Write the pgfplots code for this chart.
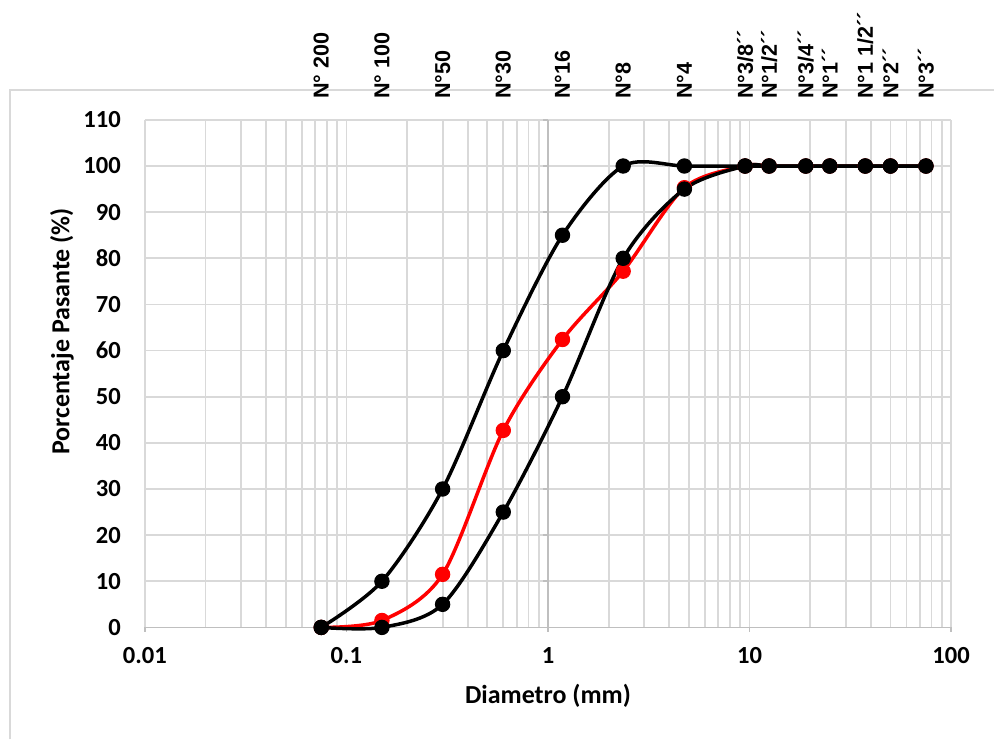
\documentclass[border=0pt]{standalone}
\usepackage{fontspec}
\setmainfont{Carlito}
\newfontfamily\arialfont{Liberation Sans}
\usepackage{pgfplots}
\pgfplotsset{compat=1.18}
\definecolor{gridc}{HTML}{D9D9D9}
\definecolor{axisc}{HTML}{BFBFBF}

\begin{document}
\begin{tikzpicture}
\begin{axis}[
  name=main,
  scale only axis,
  width=403.5pt, height=254pt,
  xmode=log,
  xmin=0.01, xmax=100,
  ymin=0, ymax=110,
  clip=false,
  xtick={0.01,0.1,1,10,100},
  xticklabels={0.01,0.1,1,10,100},
  minor xtick={0.02,0.03,0.04,0.05,0.06,0.07,0.08,0.09,
               0.2,0.3,0.4,0.5,0.6,0.7,0.8,0.9,
               2,3,4,5,6,7,8,9,
               20,30,40,50,60,70,80,90},
  ytick={0,10,...,110},
  /pgf/number format/assume math mode=true,
  grid=both,
  major grid style={gridc, line width=0.9pt},
  minor grid style={gridc, line width=0.9pt},
  axis line style={draw=none},
  major tick length=0pt, minor tick length=0pt,
  tick label style={font=\fontsize{12.3}{14}\selectfont\bfseries},
  yticklabel style={xshift=-8.5pt},
  xticklabel style={yshift=-6.5pt},
  xlabel={Diametro (mm)},
  ylabel={Porcentaje Pasante (\%)},
  label style={font=\fontsize{13}{15}\selectfont\bfseries},
  xlabel style={at={(axis description cs:0.5,-0.1358)}, anchor=center},
  ylabel style={at={(axis description cs:-0.1029,0.583)}, anchor=center, rotate=0},
]
  % invisible frame that sets the size of the picture
  \path (rel axis cs:-0.1797,-0.2205) rectangle (rel axis cs:1.0533,1.2362);
  % chart border
  \draw[gridc, line width=0.9pt] (rel axis cs:-0.1673,-0.2205) -- (rel axis cs:-0.1673,1.059) -- (rel axis cs:1.0533,1.059);
  % bottom axis and vertical axis crossing at 1
  \draw[axisc, line width=0.9pt] (axis cs:0.01,0) -- (axis cs:100,0);
  \draw[axisc, line width=0.9pt] (axis cs:1,0) -- (axis cs:1,110);
  \pgfplotsinvokeforeach{0.01,0.1,1,10,100}{
    \draw[axisc, line width=0.9pt] (axis cs:#1,0) -- ([yshift=-2.5pt]axis cs:#1,0);
  }
  \pgfplotsinvokeforeach{0,10,20,30,40,50,60,70,80,90,100,110}{
    \draw[axisc, line width=0.9pt] (axis cs:1,#1) -- ([xshift=-2.5pt]axis cs:1,#1);
  }

  % red curve
  \addplot[red, line width=1.75pt, smooth, mark=*, mark size=3.6pt,
           mark options={fill=red, draw=red, line width=0.5pt}] coordinates {
    (0.075,0) (0.15,1.5) (0.3,11.5) (0.6,42.7) (1.18,62.4) (2.36,77.2)
    (4.75,95.3) (9.5,100) (12.5,100) (19,100) (25,100) (37.5,100) (50,100) (75,100)
  };
  % lower limit
  \addplot[black, line width=1.75pt, smooth, mark=*, mark size=3.6pt,
           mark options={line width=0.5pt}] coordinates {
    (0.075,0) (0.15,0) (0.3,5) (0.6,25) (1.18,50) (2.36,80)
    (4.75,95) (9.5,100) (12.5,100) (19,100) (25,100) (37.5,100) (50,100) (75,100)
  };
  % upper limit
  \addplot[black, line width=1.75pt, smooth, mark=*, mark size=3.6pt,
           mark options={line width=0.5pt}] coordinates {
    (0.075,0) (0.15,10) (0.3,30) (0.6,60) (1.18,85) (2.36,100)
    (4.75,100) (9.5,100) (12.5,100) (19,100) (25,100) (37.5,100) (50,100) (75,100)
  };
\end{axis}

% sieve names along the top
\begin{axis}[
  at={(main.south west)}, anchor=south west,
  scale only axis,
  width=403.5pt, height=254pt,
  xmode=log,
  xmin=0.01, xmax=100,
  ymin=0, ymax=110,
  axis x line*=top,
  axis y line=none,
  x axis line style={draw=none},
  tick style={draw=none},
  major tick length=0pt, minor tick length=0pt,
  minor xtick={},
  xtick={0.075,0.15,0.3,0.6,1.18,2.36,4.75,9.5,12.5,19,25,37.5,50,75},
  xticklabels={N° 200,N° 100,N°50,N°30,N°16,N°8,N°4,N°3/8´´,N°1/2´´,N°3/4´´,N°1´´,N°1 1/2´´,N°2´´,N°3´´},
  xticklabel style={rotate=90, anchor=west, font=\arialfont\fontsize{10.8}{12}\selectfont\bfseries, xshift=-1pt},
  xticklabel shift=8pt,
]
  \addplot[draw=none] coordinates {(1,0)};
\end{axis}
\end{tikzpicture}
\end{document}
